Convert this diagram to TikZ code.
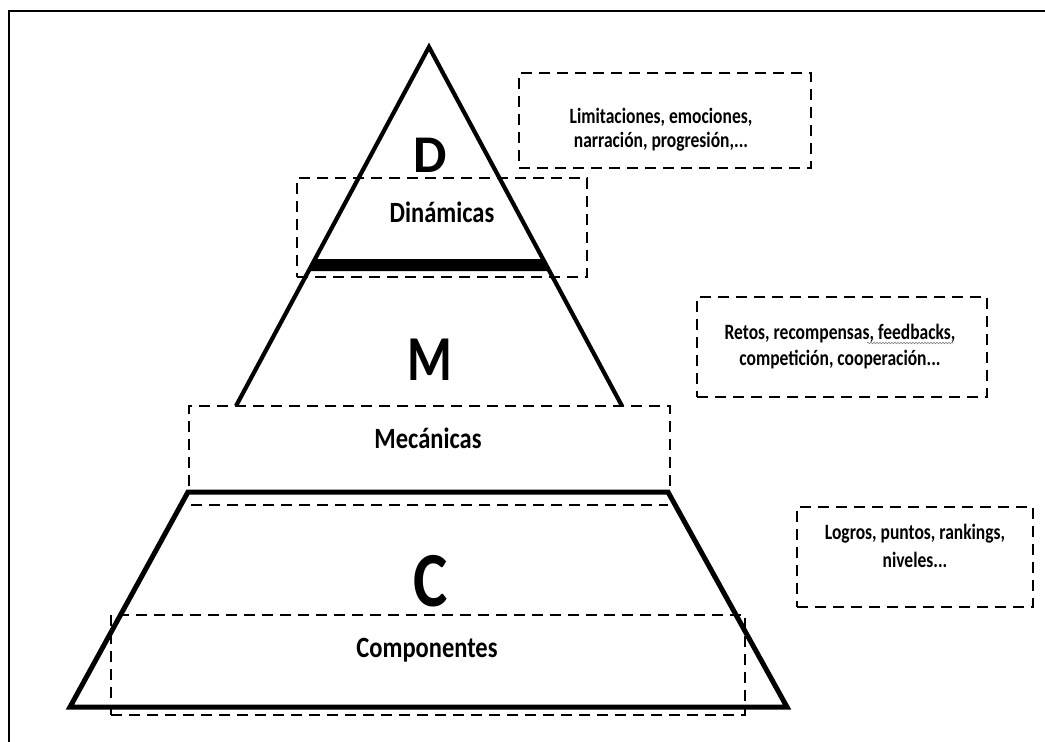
\documentclass[tikz,border=0pt]{standalone}
\usepackage{fontspec}
\setmainfont{Carlito}
\usetikzlibrary{decorations.pathmorphing}
\newcommand\boxfnt{\fontsize{17.5}{21}\selectfont\bfseries}
\newcommand\lblfnt{\fontsize{24.5}{28}\selectfont\bfseries}
\newcommand\bt[1]{\scalebox{1}[1.25]{#1}}
\newcommand\lt[1]{\scalebox{1}[1.2]{#1}}
\begin{document}
\begin{tikzpicture}[x=1pt,y=-1pt,
  dbox/.style={draw, dash pattern=on 11pt off 7pt, line width=2.2pt, inner sep=0pt},
  txt/.style={anchor=base, inner sep=0pt, font=\boxfnt},
  lbl/.style={anchor=base, inner sep=0pt, font=\lblfnt},
  pyr/.style={line width=4.2pt, line join=miter, line cap=butt}]
\useasboundingbox (0,0) rectangle (1045,742);
% frame
\draw[line width=1.5pt] (9,742) -- (9,11) -- (1045,11);

% dashed boxes
\node[dbox, minimum width=292pt, minimum height=95pt] (lim) at (665,120.5) {};
\node[dbox, minimum width=290pt, minimum height=100pt] (ret) at (842,347) {};
\node[dbox, minimum width=236pt, minimum height=100pt] (log) at (915,557) {};
\node[dbox, minimum width=290pt, minimum height=99pt] (dinbox) at (442,227.5) {};
\node[dbox, minimum width=481pt, minimum height=85pt] (mecbox) at (429.5,448.5) {};
\node[dbox, minimum width=634pt, minimum height=100pt] (combox) at (428,665) {};
\draw[dash pattern=on 11pt off 7pt, line width=2.2pt] (191,505) -- (668,505);

% pyramid
\coordinate (apex) at (429,47);
\coordinate (ml) at (236,406);
\coordinate (mr) at (622,406);
\draw[pyr] (ml) -- (apex) -- (mr);
\fill (315,259) -- (543,259) -- (549,271) -- (309,271) -- cycle;
\draw[line width=5pt, line join=miter] (188,492) -- (668,492) -- (787,707) -- (70,707) -- cycle;

% big letters
\node[anchor=base, inner sep=0pt, font=\fontsize{53}{60}\selectfont\bfseries] (D) at (430,172) {D};
\node[anchor=base, inner sep=0pt, font=\fontsize{64}{70}\selectfont\bfseries] (M) at (430,380) {\scalebox{0.8}[1]{M}};
\node[anchor=base, inner sep=0pt, font=\fontsize{78}{84}\selectfont\bfseries] (C) at (431,606) {\scalebox{0.83}[1]{C}};

% labels
\node[lbl] (din) at (442,222) {\lt{Dinámicas}};
\node[lbl] (mec) at (428,448) {\lt{Mecánicas}};
\node[lbl] (com) at (427,657) {\lt{Componentes}};

% box texts
\node[txt] (lim1) at (661,123) {\bt{Limitaciones, emociones,}};
\node[txt] (lim2) at (661,147) {\bt{narración, progresión,...}};
\node[txt] (ret1) at (840,339) {\bt{Retos, recompensas, feedbacks,}};
\node[txt] (ret2) at (840,365) {\bt{competición, cooperación...}};
\node[txt] (log1) at (915,539) {\bt{Logros, puntos, rankings,}};
\node[txt] (log2) at (915,567) {\bt{niveles...}};
\draw[gray, line width=0.6pt, decorate, decoration={snake, amplitude=0.8pt, segment length=3pt}] (867,343) -- (953,343);
\end{tikzpicture}
\end{document}
